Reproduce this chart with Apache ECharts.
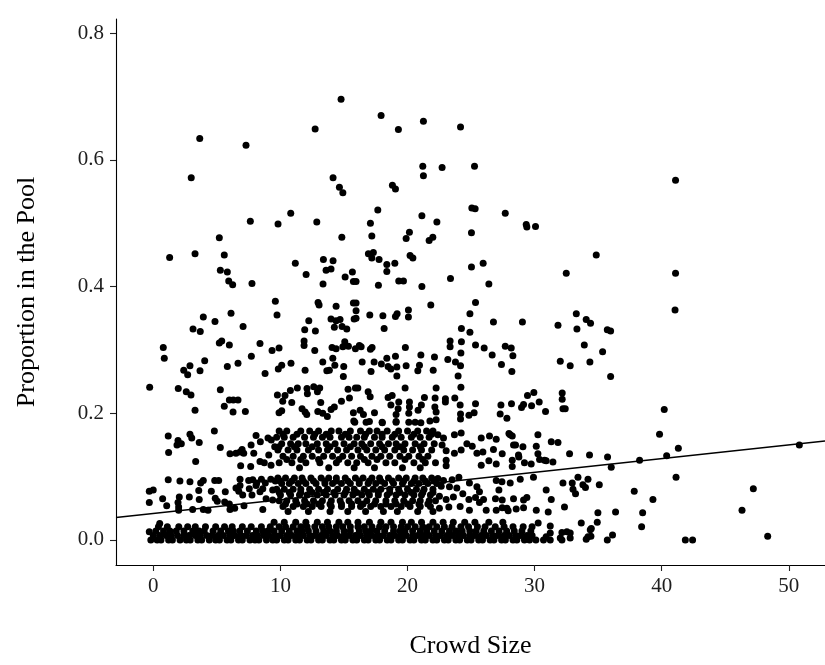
<!DOCTYPE html>
<html>
<head>
<meta charset="utf-8">
<script src="https://cdn.jsdelivr.net/npm/echarts@6/dist/echarts.min.js"></script>
<style>
  html, body { margin: 0; padding: 0; background: #fff; }
  #chart { width: 825px; height: 665px; }
</style>
</head>
<body>
<div id="chart"></div>
<script>
// axis ranges and ticks
const xRange = [-2.94, 52.85];
const yRange = [-0.0395, 0.8225];
const xTicks = [0, 10, 20, 30, 40, 50];
const yTicks = [0, 0.2, 0.4, 0.6, 0.8];

// fitted line end points
const fitLine = [[-2.94, 0.0355], [52.85, 0.1563]];

// scattered points above 0.38
const upperPoints = [
  [14.77,0.696],[12.73,0.649],[3.65,0.634],[7.29,0.623],[2.98,0.572],[14.14,0.572],[14.64,0.557],[14.91,0.548],
  [7.63,0.503],[9.81,0.499],[10.81,0.516],[12.86,0.502],[14.83,0.478],[5.19,0.477],[1.28,0.446],[3.28,0.452],
  [5.58,0.450],[11.17,0.437],[13.38,0.443],[14.14,0.441],[5.27,0.426],[5.82,0.423],[13.59,0.426],[13.98,0.428],
  [12.02,0.419],[15.66,0.423],[15.09,0.415],[15.74,0.408],[5.93,0.409],[6.24,0.403],[7.76,0.405],[13.35,0.404],
  [17.92,0.670],[19.28,0.648],[21.25,0.661],[24.17,0.652],[21.20,0.590],[22.72,0.588],[25.27,0.590],[21.25,0.575],
  [18.81,0.560],[19.05,0.554],[17.66,0.521],[21.13,0.512],[22.31,0.502],[25.06,0.524],[25.32,0.523],[27.69,0.516],
  [29.34,0.498],[29.39,0.494],[30.07,0.495],[17.08,0.500],[17.19,0.480],[20.15,0.486],[19.89,0.476],[21.70,0.473],
  [21.99,0.478],[25.03,0.485],[16.92,0.452],[17.31,0.454],[17.19,0.445],[17.76,0.443],[18.37,0.435],[19.00,0.437],
  [18.37,0.424],[20.20,0.449],[20.42,0.445],[25.03,0.431],[25.95,0.437],[34.85,0.450],[32.49,0.421],[15.95,0.408],
  [17.71,0.402],[19.31,0.409],[19.68,0.409],[21.13,0.400],[23.38,0.413],[26.40,0.404],[41.09,0.568],[41.09,0.421]
];

// scattered points between 0.18 and 0.38
const middlePoints = [
  [9.60,0.377],[9.73,0.355],[12.96,0.375],[13.04,0.371],[14.38,0.369],[15.74,0.374],[6.11,0.358],[3.93,0.352],
  [4.85,0.345],[3.12,0.333],[3.69,0.329],[7.06,0.337],[12.23,0.346],[11.91,0.332],[12.75,0.330],[13.98,0.349],
  [14.38,0.346],[14.69,0.348],[14.24,0.336],[14.85,0.337],[15.22,0.333],[15.80,0.349],[0.78,0.304],[0.86,0.287],
  [5.19,0.311],[5.38,0.314],[5.98,0.308],[8.39,0.310],[9.34,0.299],[9.89,0.303],[11.86,0.314],[11.86,0.307],
  [12.70,0.299],[14.06,0.304],[14.38,0.302],[15.06,0.313],[15.35,0.306],[14.91,0.305],[15.90,0.302],[7.71,0.290],
  [4.04,0.283],[2.88,0.275],[2.39,0.268],[2.70,0.261],[3.67,0.267],[5.82,0.274],[6.66,0.279],[8.79,0.263],
  [9.83,0.270],[10.10,0.276],[10.83,0.279],[11.94,0.268],[13.33,0.281],[14.12,0.287],[13.65,0.267],[13.85,0.268],
  [14.28,0.276],[14.98,0.274],[14.95,0.258],[-0.29,0.241],[1.96,0.239],[2.59,0.234],[2.96,0.229],[5.27,0.237],
  [3.28,0.205],[5.58,0.211],[5.98,0.221],[6.29,0.221],[6.66,0.221],[6.27,0.202],[7.24,0.203],[9.76,0.229],
  [10.36,0.228],[10.78,0.236],[11.33,0.240],[10.18,0.219],[10.89,0.217],[12.09,0.239],[12.62,0.242],[13.09,0.240],
  [12.12,0.231],[12.91,0.234],[15.32,0.238],[15.90,0.240],[15.43,0.224],[14.80,0.219],[13.17,0.217],[9.89,0.201],
  [10.10,0.204],[11.70,0.207],[11.94,0.202],[12.07,0.198],[12.94,0.203],[13.33,0.200],[13.69,0.195],[13.98,0.206],
  [14.24,0.210],[15.74,0.201],[15.77,0.188],
  [25.35,0.375],[21.83,0.371],[17.03,0.355],[18.06,0.354],[19.05,0.353],[19.18,0.357],[20.07,0.363],[20.07,0.352],
  [18.16,0.334],[24.91,0.357],[24.24,0.334],[24.91,0.328],[15.95,0.374],[15.95,0.362],[15.95,0.350],[16.21,0.307],
  [16.35,0.305],[17.08,0.301],[17.21,0.304],[19.83,0.304],[23.35,0.314],[23.35,0.305],[24.24,0.313],[25.35,0.308],
  [24.20,0.295],[16.43,0.281],[17.13,0.266],[17.37,0.281],[17.94,0.278],[18.37,0.287],[19.05,0.290],[18.47,0.274],
  [18.69,0.270],[19.16,0.273],[19.16,0.259],[19.89,0.275],[21.05,0.292],[20.94,0.276],[20.81,0.267],[22.12,0.289],
  [22.02,0.268],[23.17,0.285],[23.77,0.281],[24.17,0.275],[23.98,0.259],[16.09,0.240],[16.90,0.234],[17.06,0.226],
  [19.81,0.240],[22.25,0.240],[24.20,0.241],[18.47,0.225],[18.79,0.228],[19.31,0.218],[20.15,0.218],[21.33,0.225],
  [22.17,0.224],[22.98,0.223],[23.72,0.224],[18.69,0.213],[19.26,0.207],[20.15,0.210],[21.09,0.213],[22.15,0.210],
  [22.98,0.218],[24.14,0.213],[25.35,0.215],[16.27,0.205],[16.53,0.198],[17.40,0.201],[17.00,0.187],[18.02,0.185],
  [19.10,0.198],[19.10,0.187],[20.10,0.200],[20.10,0.186],[20.83,0.205],[21.05,0.185],[21.76,0.188],[22.25,0.190],
  [22.25,0.202],[24.17,0.199],[24.17,0.191],[24.83,0.197],[25.24,0.201],
  [26.76,0.344],[29.04,0.344],[31.84,0.339],[33.28,0.357],[33.33,0.333],[34.06,0.348],[34.40,0.342],[27.69,0.306],
  [28.16,0.303],[28.29,0.291],[26.66,0.292],[26.03,0.303],[33.91,0.308],[27.39,0.277],[28.21,0.266],[32.02,0.282],
  [32.80,0.275],[34.35,0.281],[29.44,0.228],[29.94,0.233],[30.36,0.218],[29.76,0.212],[29.13,0.214],[28.97,0.209],
  [28.18,0.215],[27.35,0.213],[32.17,0.232],[32.17,0.222],[32.23,0.207],[32.41,0.207],[30.86,0.203],[27.29,0.199],
  [27.82,0.192],[15.85,0.186],[16.74,0.186],[18.00,0.186],[19.10,0.186],[20.60,0.186]
];

// points right of x = 35
const rightPoints = [
  [41.05,0.363],[35.72,0.332],[35.98,0.330],[35.35,0.297],[35.98,0.258],[40.20,0.206],[39.83,0.167],[41.31,0.145],
  [40.39,0.133],[35.74,0.131],[36.03,0.115],[38.26,0.126],[50.83,0.150],[41.13,0.099],[35.09,0.087],[37.84,0.077],
  [39.31,0.064],[47.21,0.081],[46.32,0.047],[34.98,0.043],[36.37,0.044],[38.50,0.043],[34.93,0.028],[38.42,0.021],
  [36.13,0.008],[35.72,0.000],[41.86,0.000],[42.43,0.000],[48.34,0.006]
];

// 0.11 - 0.18 band, outside the dense centre
const bandHighPoints = [
  [1.17,0.164],[1.94,0.157],[1.86,0.150],[2.20,0.152],[2.88,0.167],[3.02,0.161],[3.61,0.154],[4.80,0.172],
  [5.27,0.146],[1.20,0.138],[3.33,0.124],[6.03,0.136],[6.50,0.137],[6.82,0.139],[6.98,0.143],[7.11,0.137],
  [7.69,0.150],[7.90,0.137],[8.08,0.165],[8.42,0.155],[9.02,0.161],[9.28,0.158],[9.08,0.134],[9.55,0.147],
  [6.87,0.117],[7.66,0.116],[8.39,0.124],[8.73,0.122],[9.26,0.118],
  [22.39,0.166],[22.83,0.161],[23.69,0.166],[24.22,0.169],[25.80,0.161],[26.45,0.164],[26.98,0.159],[27.98,0.168],
  [28.24,0.164],[30.26,0.166],[31.31,0.155],[31.84,0.154],[22.72,0.150],[23.04,0.141],[23.69,0.137],[24.22,0.142],
  [24.67,0.152],[25.09,0.148],[25.46,0.137],[25.93,0.139],[26.76,0.143],[27.45,0.136],[28.50,0.150],[29.08,0.147],
  [30.13,0.148],[30.26,0.136],[30.91,0.125],[31.44,0.123],[32.75,0.136],[34.32,0.134],[23.04,0.126],[23.04,0.117],
  [25.80,0.118],[26.40,0.125],[26.98,0.120],[28.24,0.126],[28.24,0.116],[28.76,0.131],[29.20,0.122],[29.73,0.120],
  [30.39,0.127],[28.34,0.150],[28.73,0.134],[30.78,0.126],[28.08,0.166]
];

// 0.04 - 0.10 band, outside the dense centre
const bandLowPoints = [
  [1.17,0.095],[2.09,0.093],[2.88,0.092],[3.72,0.090],[3.93,0.094],[4.83,0.094],[5.14,0.094],[6.82,0.096],
  [7.50,0.094],[7.82,0.095],[8.13,0.090],[8.50,0.096],[8.81,0.090],[9.24,0.096],[9.60,0.093],[-0.32,0.077],
  [-0.01,0.079],[-0.32,0.059],[0.73,0.065],[1.05,0.054],[2.04,0.068],[1.94,0.059],[1.99,0.052],[2.83,0.068],
  [3.57,0.078],[3.61,0.064],[4.56,0.077],[4.87,0.066],[5.03,0.061],[5.66,0.076],[5.61,0.060],[5.98,0.057],
  [6.50,0.082],[6.72,0.077],[6.82,0.086],[7.03,0.071],[7.55,0.081],[7.76,0.071],[8.08,0.086],[8.39,0.076],
  [8.61,0.081],[8.87,0.065],[9.39,0.079],[9.39,0.063],[1.99,0.047],[3.09,0.048],[3.93,0.048],[4.30,0.047],
  [6.03,0.048],[6.40,0.050],[7.13,0.054],[8.61,0.048],
  [22.39,0.097],[22.83,0.094],[23.51,0.095],[24.04,0.099],[22.65,0.085],[23.30,0.084],[23.88,0.082],[24.87,0.090],
  [25.46,0.084],[25.66,0.076],[26.98,0.094],[27.19,0.079],[28.08,0.090],[28.87,0.096],[29.91,0.099],[30.91,0.079],
  [31.31,0.064],[32.23,0.090],[32.96,0.090],[33.41,0.099],[33.80,0.087],[34.20,0.096],[33.02,0.080],[33.22,0.073],
  [22.51,0.069],[23.04,0.064],[23.61,0.068],[24.35,0.073],[24.83,0.064],[25.35,0.067],[25.98,0.064],[26.92,0.065],
  [27.45,0.063],[28.34,0.065],[29.13,0.063],[29.39,0.067],[22.51,0.050],[23.25,0.052],[24.14,0.053],[24.87,0.047],
  [25.66,0.059],[26.19,0.047],[26.98,0.047],[27.45,0.051],[27.92,0.046],[28.55,0.049],[29.13,0.051],[30.13,0.047],
  [31.07,0.044],[32.35,0.052],[27.43,0.092],[34.00,0.083],[27.82,0.050]
];

// sparse points at the right end of the bottom band
const baseExtraPoints = [
  [30.28,0.027],[31.23,0.022],[33.67,0.027],[32.54,0.013],[34.38,0.016],[31.23,0.011],[31.23,0.000],[32.15,0.012],
  [32.15,0.000],[32.80,0.011],[32.80,0.003],[34.06,0.001],[34.43,0.006],[34.46,0.018],[34.20,0.005],[32.02,0.003],
  [30.91,0.005],[-0.32,0.013],[0.5,0.026]
];

// dense centre, 0.11 - 0.18: x positions per row
const centreHighY = [0.172, 0.167, 0.162, 0.152, 0.147, 0.142, 0.132, 0.127, 0.122, 0.114];
const centreHighRow0 = [9.9,10.5,11.6,12.3,13.0,14.0,14.6,15.5,16.3,17.0,17.6,18.4,19.3,20.0,20.8,21.5,22.0];
const centreHighRow0b = [10.2,11.3,12.7,13.6,15.1,16.7,18.0,19.0,20.5,21.9];
const centreHighRow1 = [9.7,10.3,11.0,11.9,12.6,13.3,13.9,14.8,15.4,16.0,16.6,17.4,18.0,18.8,19.5,20.3,21.0,21.7];
const centreHighRow2 = [10.1,10.8,11.4,12.0,12.9,13.6,14.3,15.0,15.8,16.4,17.1,17.8,18.5,19.1,19.8,20.6,21.3,22.1];
const centreHighRow2b = [9.9,11.1,12.5,13.9,15.5,16.6,18.0,19.4,21.0];
const centreHighRow3 = [9.8,10.6,11.3,12.2,13.0,13.7,14.5,15.2,16.1,16.8,17.5,18.2,19.0,19.7,20.4,21.1,21.9];
const centreHighRow4 = [10.2,11.0,11.8,12.5,13.4,14.1,14.9,15.6,16.3,17.2,17.9,18.6,19.4,20.1,20.9,21.6];
const centreHighRow4b = [10.5,11.6,13.0,14.6,16.6,17.6,19.8,21.2];
const centreHighRow5 = [9.9,10.9,12.0,13.1,14.4,15.3,16.0,16.9,18.3,19.0,20.5,21.4,22.2];
const centreHighRow6 = [11.5,13.8,15.8,17.4,19.6,21.0];

// dense centre, 0.04 - 0.10: x positions per row
const centreLowY = [0.098, 0.093, 0.089, 0.080, 0.075, 0.071, 0.062, 0.057, 0.053, 0.045];
const centreLowRow0 = [9.8,10.4,11.1,11.7,12.4,13.2,13.8,14.4,15.1,15.9,16.5,17.2,17.8,18.5,19.3,19.9,20.6,21.2,21.9];
const centreLowRow0b = [10.0,10.9,11.8,12.6,13.5,14.4,15.3,16.2,17.0,17.9,18.8,19.7,20.5,21.4,22.1];
const centreLowRow1 = [10.1,10.7,11.4,12.0,12.8,13.5,14.1,14.8,15.5,16.2,16.9,17.5,18.2,18.9,19.6,20.3,20.9,21.6,22.3];
const centreLowRow2 = [9.7,10.3,11.0,11.6,12.3,13.0,13.7,14.5,15.2,15.8,16.6,17.3,17.9,18.6,19.3,20.0,20.7,21.3,22.0];
const centreLowRow2b = [9.9,10.7,11.6,12.5,13.4,14.2,15.1,16.0,16.9,17.7,18.6,19.4,20.3,21.2,22.0];
const centreLowRow3 = [10.0,10.8,11.5,12.1,12.9,13.6,14.3,15.0,15.7,16.4,17.0,17.7,18.4,19.1,19.8,20.5,21.1,21.8];
const centreLowRow4 = [9.9,10.5,11.2,11.9,12.6,13.3,14.0,14.7,15.4,16.1,16.8,17.5,18.3,19.0,19.7,20.4,21.0,21.7,22.2];
const centreLowRow4b = [10.4,11.3,12.1,13.0,13.9,14.8,15.6,16.5,17.4,18.3,19.1,20.0,20.9,21.6];
const centreLowRow5 = [10.2,11.0,11.8,12.5,13.2,14.0,14.8,15.6,16.3,17.1,17.9,18.7,19.5,20.2,21.0,21.8];
const centreLowRow6 = [10.6,12.2,13.9,15.3,16.7,18.1,19.2,20.8,22.0];

// bottom band near zero: x positions per row
const baseY = [0.000, 0.007, 0.014, 0.021, 0.028];
const baseRow0 = [-0.2,0.3,0.6,1.2,1.5,2.1,2.6,2.9,3.5,3.8,4.4,4.9,5.2,5.8,6.1,6.7,7.0,7.6,8.0,8.3,8.9,9.4,9.7,10.3,
  10.6,11.2,11.5,12.1,12.4,13.0,13.3,13.9,14.2,14.8,15.1,15.7,16.0,16.6,16.9,17.5,17.8,18.4,18.7,19.3,19.6,20.2,
  20.5,21.1,21.4,22.0,22.3,22.9,23.2,23.8,24.1,24.7,25.0,25.6,25.9,26.5,26.8,27.4,27.7,28.3,28.6,29.2,29.6,30.1,30.7];
const baseRow1 = [0.0,0.5,1.0,1.4,1.9,2.4,2.8,3.3,3.7,4.2,4.6,5.1,5.5,6.0,6.4,6.9,7.3,7.8,8.2,8.7,9.1,9.6,10.0,10.5,
  10.9,11.4,11.8,12.3,12.7,13.2,13.6,14.1,14.5,15.0,15.4,15.9,16.3,16.8,17.2,17.7,18.1,18.6,19.0,19.5,19.9,20.4,
  20.8,21.3,21.7,22.2,22.6,23.1,23.5,24.0,24.4,24.9,25.3,25.8,26.2,26.7,27.1,27.6,28.0,28.5,28.9,29.4,29.8];
const baseRow2 = [0.2,0.8,1.3,1.8,2.4,3.1,3.6,4.0,4.7,5.3,5.9,6.3,6.8,7.4,8.1,8.6,9.0,9.5,10.1,10.7,11.3,11.7,12.2,
  12.8,13.4,13.9,14.4,15.0,15.5,16.2,16.7,17.1,17.6,18.2,18.9,19.4,19.8,20.4,21.0,21.5,22.1,22.7,23.3,23.8,24.3,
  24.9,25.4,26.0,26.6,27.2,27.8,28.4,29.0,29.7];
const baseRow3 = [0.4,1.1,2.0,2.7,3.3,4.1,4.9,5.6,6.2,7.0,7.7,8.5,9.2,9.9,10.4,11.0,11.6,12.1,12.7,13.3,13.8,14.4,
  14.9,15.5,16.1,16.6,17.2,17.8,18.3,18.9,19.5,20.0,20.6,21.2,21.7,22.3,22.9,23.5,24.2,24.8,25.5,26.1,26.9,27.6,
  28.3,29.1,29.8];
const baseRow4 = [9.5,10.3,11.2,12.0,12.9,13.7,14.6,15.3,16.1,17.0,17.9,18.7,19.6,20.3,21.1,22.0,22.8,23.6,24.5,
  25.3,26.4,27.5];

function rowsToPoints(ys, rows) {
  const out = [];
  rows.forEach((xs, i) => xs.forEach(x => out.push([x, ys[i]])));
  return out;
}

const allPoints = [].concat(
  baseExtraPoints,
  rowsToPoints(baseY, [baseRow0, baseRow1, baseRow2, baseRow3, baseRow4]),
  rowsToPoints(centreLowY, [centreLowRow0, centreLowRow0b, centreLowRow1, centreLowRow2, centreLowRow2b,
    centreLowRow3, centreLowRow4, centreLowRow4b, centreLowRow5, centreLowRow6]),
  rowsToPoints(centreHighY, [centreHighRow0, centreHighRow0b, centreHighRow1, centreHighRow2, centreHighRow2b,
    centreHighRow3, centreHighRow4, centreHighRow4b, centreHighRow5, centreHighRow6]),
  bandLowPoints, bandHighPoints, middlePoints, upperPoints, rightPoints
);

const FONT = "'Liberation Serif', 'DejaVu Serif', serif";
const chart = echarts.init(document.getElementById("chart"));

const axisLine = { show: true, onZero: false, lineStyle: { color: "#000", width: 1.1 } };

chart.setOption({
  animation: false,
  backgroundColor: "#fff",
  grid: { left: 116, right: 0, top: 19, bottom: 100 },
  xAxis: {
    type: "value",
    min: xRange[0], max: xRange[1],
    name: "Crowd Size",
    nameLocation: "middle",
    nameGap: 68,
    nameTextStyle: { fontFamily: FONT, fontSize: 26, color: "#000" },
    axisLine,
    axisTick: { show: true, customValues: xTicks, length: 6, lineStyle: { color: "#222", width: 1.1 } },
    axisLabel: { customValues: xTicks, margin: 11, fontFamily: FONT, fontSize: 21, color: "#1e1e1e" },
    splitLine: { show: false }
  },
  yAxis: {
    type: "value",
    min: yRange[0], max: yRange[1],
    name: "Proportion in the Pool",
    nameLocation: "middle",
    nameGap: 76,
    nameTextStyle: { fontFamily: FONT, fontSize: 26, color: "#000" },
    axisLine,
    axisTick: { show: true, customValues: yTicks, length: 6, lineStyle: { color: "#222", width: 1.1 } },
    axisLabel: { customValues: yTicks, margin: 12, fontFamily: FONT, fontSize: 21, color: "#1e1e1e",
      formatter: v => v.toFixed(1) },
    splitLine: { show: false }
  },
  series: [
    {
      type: "scatter",
      data: allPoints,
      symbolSize: 7,
      itemStyle: { color: "#000", opacity: 1 },
      silent: true
    },
    {
      type: "line",
      data: fitLine,
      symbol: "none",
      lineStyle: { color: "#000", width: 1.3 },
      silent: true
    }
  ]
});
window.addEventListener("resize", () => chart.resize());
</script>
</body>
</html>
